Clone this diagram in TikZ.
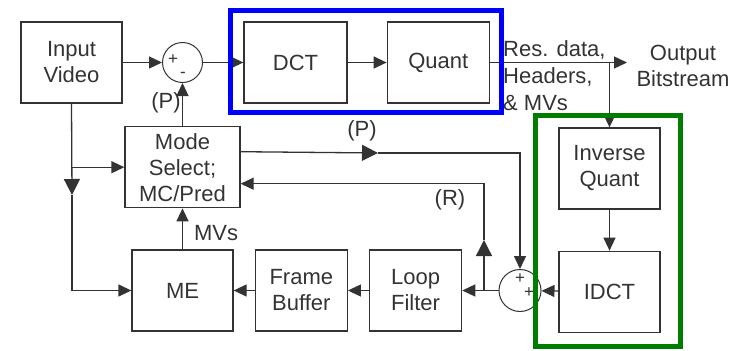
\documentclass[tikz,border=0pt]{standalone}
\usepackage{fontspec}
\setmainfont{Liberation Sans}
\usetikzlibrary{positioning, arrows.meta}
\definecolor{linegray}{RGB}{51,51,51}
\definecolor{boxblue}{RGB}{0,0,255}
\definecolor{boxgreen}{RGB}{0,125,0}

\begin{document}
\begin{tikzpicture}[
    x=1pt, y=-1pt,
    block/.style={draw=linegray, line width=1.3pt, minimum width=101pt,
      minimum height=81pt, inner sep=0pt, align=center, text=linegray,
      font=\fontsize{22}{26}\selectfont},
    summer/.style={draw=linegray, circle, line width=1pt, minimum size=40pt, inner sep=0pt},
    sign/.style={font=\fontsize{17}{17}\selectfont, text=linegray, inner sep=0pt},
    tag/.style={text=linegray, inner sep=0pt, font=\fontsize{22}{26}\selectfont},
    wire/.style={draw=linegray, line width=1.3pt},
    >={Triangle[length=13pt,width=12pt]},
    midtip/.tip={Triangle[length=16pt,width=16pt]},
  ]
    \useasboundingbox (0,0) rectangle (745,351);

    \node[block] (input) at (71.5,62.5) {Input\\Video};
    \node[summer] (sum1) at (182.5,62.5) {};
    \node[sign] (s1p) at (173,60) {+};
    \node[sign] (s1m) at (183,75) {-};
    \node[block, minimum width=103pt] (dct) at (295.5,62.5) {DCT};
    \node[block, minimum width=102pt, right=39pt of dct] (quant) {Quant};

    \node[block] (me) at (182.5,290.5) {ME};
    \node[block, minimum width=92pt, right=21pt of me] (fb) {Frame\\Buffer};
    \node[block, minimum width=92pt, right=21pt of fb] (lf) {Loop\\Filter};
    \node[block, minimum width=115pt, above=41pt of me] (mode) {Mode\\Select;\\MC/Pred};

    \node[summer, minimum size=42pt] (sum2) at (520,290.5) {};
    \node[sign] (s2a) at (520,279) {+};
    \node[sign] (s2b) at (529,293) {+};
    \node[block] (iq) at (609.5,168.5) {Inverse\\Quant};
    \node[block, below=41pt of iq] (idct) {IDCT};

    \node[tag, align=center] (outlbl) at (683,66) {Output\\Bitstream};
    \node[tag, align=left, anchor=west, font=\fontsize{22}{27}\selectfont] (reslbl) at (503,76) {Res. data,\\Headers,\\\& MVs};
    \node[tag] (p1lbl) at (166,103) {(P)};
    \node[tag] (p2lbl) at (362,131) {(P)};
    \node[tag] (rlbl) at (450,200) {(R)};
    \node[tag] (mvlbl) at (216,233) {MVs};

    \coordinate (outtip) at (627,62.5);
    \coordinate (vdown) at (72,195);
    \coordinate (ptip) at (378,153);
    \coordinate (rsplit) at (484,290.5);
    \coordinate (rtip) at (484,240);

    \draw[wire,->] (input) -- (sum1);
    \draw[wire,->] (sum1) -- (dct);
    \draw[wire,->] (dct) -- (quant);
    \draw[wire,->] (quant) -- (outtip);
    \draw[wire,->] (quant.east -| iq.north) -- (iq.north);
    \draw[wire,->] (iq) -- (idct);
    \draw[wire,->] (idct) -- (sum2);
    \draw[wire,->] (sum2) -- (lf);
    \draw[wire,->] (lf) -- (fb);
    \draw[wire,->] (fb) -- (me);
    \draw[wire,->] (me) -- (mode);
    \draw[wire,->] (mode) -- (sum1);
    \draw[wire,-midtip] (input.south) -- (vdown);
    \draw[wire,->] (vdown) |- (me.west);
    \draw[wire,->] (input.south |- mode.west) -- (mode.west);
    \draw[wire,-midtip] ([yshift=15.5pt]mode.east) -- (ptip);
    \draw[wire,->] (ptip) -| (sum2.north);
    \draw[wire,-midtip] (rsplit) -- (rtip);
    \draw[wire,->] (rtip) |- ([yshift=-16.5pt]mode.east);

    \draw[boxblue, line width=5pt] (230.5,10.5) rectangle (501.5,112.5);
    \draw[boxgreen, line width=5pt] (535.5,115.5) rectangle (680.5,346.5);
  \end{tikzpicture}
\end{document}
